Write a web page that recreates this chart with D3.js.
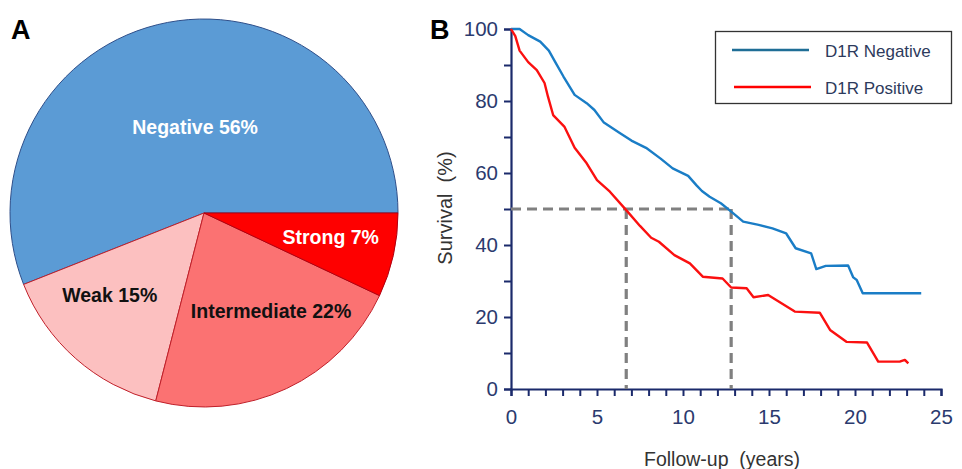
<!DOCTYPE html>
<html>
<head>
<meta charset="utf-8">
<script src="https://cdn.jsdelivr.net/npm/d3@7"></script>
<style>
  html, body { margin: 0; padding: 0; background: #fff; }
  svg { display: block; font-family: "Liberation Sans", Arial, sans-serif; }
</style>
</head>
<body>
<svg id="chart" width="962" height="469"></svg>
<script>
// ---- panel A: D1R staining groups ----
var pieLabels = ["Negative", "Weak", "Intermediate", "Strong"];
var piePercents = [56, 15, 22, 7];

// ---- panel B: Kaplan-Meier curves (years, survival %) ----
var negYears = [0, 0.5, 1.0, 1.7, 2.2, 2.55, 3.05, 3.7, 4.4, 4.85, 5.4, 6.3, 7.0, 7.85, 8.7, 9.4, 10.3, 10.8, 11.1, 11.55, 12.2, 12.7, 13.5, 14.4, 15.2, 16.0, 16.55, 17.45, 17.75, 18.3, 19.6, 19.9, 20.1, 20.45, 23.85];
var negSurv = [100, 100, 98.3, 96.5, 94, 91, 86.8, 81.7, 79.4, 77.5, 74, 71.2, 69, 67, 64, 61.3, 59.2, 56.5, 55, 53.4, 51.6, 49.7, 46.5, 45.6, 44.6, 43.2, 39.1, 37.7, 33.3, 34.2, 34.3, 31, 30.3, 26.6, 26.6];

var posYears = [0, 0.25, 0.5, 1.0, 1.5, 1.95, 2.15, 2.45, 3.1, 3.7, 4.4, 5.0, 5.75, 6.7, 7.5, 8.15, 8.6, 9.5, 10.4, 11.15, 12.3, 12.8, 13.7, 14.1, 14.95, 16.5, 17.95, 18.55, 19.5, 20.7, 21.35, 22.6, 22.9, 23.1];
var posSurv = [100, 98, 94, 90.8, 88.6, 85, 81.2, 76.1, 72.9, 67, 62.7, 58, 54.8, 49.7, 45.3, 42, 40.9, 37.2, 34.9, 31.2, 30.7, 28.2, 28, 25.5, 26.1, 21.5, 21.2, 16.4, 13.1, 12.9, 7.6, 7.6, 8.1, 7.1];

var seriesNames = ["D1R Negative", "D1R Positive"];
var medianYears = [6.7, 12.8];
var medianLevel = 50;

var xTicks = [0, 5, 10, 15, 20, 25];
var yTicks = [0, 20, 40, 60, 80, 100];

var svg = d3.select("#chart");

// ================= Panel A =================
var pieColors = ["#5b9bd5", "#fcc0c0", "#fb7272", "#fe0000"];
var pieStroke = ["#2f4f8a", "#c0202a", "#c0202a", "#b00010"];
var pieTextColor = ["#fff", "#111", "#111", "#fff"];
// where each label sits: fraction along the slice, distance from centre
var labelPlace = [[0.476, 86], [0.36, 125], [0.615, 119], [0.574, 129]];

var cx = 204, cy = 213, radius = 194;

svg.append("text")
    .attr("x", 11)
    .attr("y", 39)
    .attr("font-size", 27)
    .attr("font-weight", "bold")
    .text("A");

var pie = d3.pie()
    .sort(null)
    .startAngle(Math.PI / 2)
    .endAngle(Math.PI / 2 - 2 * Math.PI);

var arc = d3.arc().innerRadius(0).outerRadius(radius);

var slices = pie(piePercents);

var gPie = svg.append("g")
    .attr("transform", "translate(" + cx + "," + cy + ")");

gPie.selectAll("path")
    .data(slices)
    .enter()
    .append("path")
    .attr("d", arc)
    .attr("fill", function(d, i) { return pieColors[i]; })
    .attr("stroke", function(d, i) { return pieStroke[i]; })
    .attr("stroke-width", 1);

gPie.selectAll("text")
    .data(slices)
    .enter()
    .append("text")
    .attr("transform", function(d, i) {
        var a = d.startAngle + (d.endAngle - d.startAngle) * labelPlace[i][0];
        var r = labelPlace[i][1];
        return "translate(" + (Math.sin(a) * r) + "," + (-Math.cos(a) * r) + ")";
    })
    .attr("text-anchor", "middle")
    .attr("dy", "0.36em")
    .attr("font-size", 19.5)
    .attr("font-weight", "bold")
    .attr("fill", function(d, i) { return pieTextColor[i]; })
    .text(function(d, i) { return pieLabels[i] + " " + piePercents[i] + "%"; });

// ================= Panel B =================
var navy = "#1b2a6b";
var tickText = "#2b3a6e";

svg.append("text")
    .attr("x", 430)
    .attr("y", 39)
    .attr("font-size", 27)
    .attr("font-weight", "bold")
    .text("B");

var x = d3.scaleLinear().domain([0, 25]).range([511, 941]);
var y = d3.scaleLinear().domain([0, 100]).range([389, 29]);

// minor ticks (every year / every 10 %)
var xAxis = svg.append("g")
    .attr("transform", "translate(0," + y(0) + ")")
    .call(d3.axisBottom(x).tickValues(d3.range(0, 26, 1)).tickSize(7).tickFormat(""));
xAxis.select(".domain").attr("stroke", navy).attr("stroke-width", 2.2);
xAxis.selectAll(".tick line").attr("stroke", navy).attr("stroke-width", 2);

var xLab = svg.append("g")
    .attr("transform", "translate(0," + y(0) + ")")
    .call(d3.axisBottom(x).tickValues(xTicks).tickSize(0).tickPadding(20));
xLab.select(".domain").remove();
xLab.selectAll("text")
    .attr("font-size", 20.5)
    .attr("fill", tickText)
    .attr("font-family", "Liberation Sans, Arial, sans-serif");

var yAxis = svg.append("g")
    .attr("transform", "translate(" + x(0) + ",0)")
    .call(d3.axisLeft(y).tickValues(d3.range(0, 101, 10)).tickSize(7).tickFormat(""));
yAxis.select(".domain").attr("stroke", navy).attr("stroke-width", 2.2);
yAxis.selectAll(".tick line").attr("stroke", navy).attr("stroke-width", 2);

var yLab = svg.append("g")
    .attr("transform", "translate(" + x(0) + ",0)")
    .call(d3.axisLeft(y).tickValues(yTicks).tickSize(0).tickPadding(13));
yLab.select(".domain").remove();
yLab.selectAll("text")
    .attr("font-size", 20.5)
    .attr("fill", tickText)
    .attr("font-family", "Liberation Sans, Arial, sans-serif");

// median survival guides
var dashColor = "#808080";
svg.append("line")
    .attr("x1", x(0)).attr("x2", x(medianYears[1]))
    .attr("y1", y(medianLevel)).attr("y2", y(medianLevel))
    .attr("stroke", dashColor).attr("stroke-width", 3.2)
    .attr("stroke-dasharray", "10,6");

svg.selectAll(".medline")
    .data(medianYears)
    .enter()
    .append("line")
    .attr("class", "medline")
    .attr("x1", function(d) { return x(d); })
    .attr("x2", function(d) { return x(d); })
    .attr("y1", y(medianLevel))
    .attr("y2", y(0))
    .attr("stroke", dashColor).attr("stroke-width", 3.2)
    .attr("stroke-dasharray", "10,6");

// survival curves
var line = d3.line()
    .x(function(d) { return x(d[0]); })
    .y(function(d) { return y(d[1]); });

var curveColors = ["#1a7dc6", "#fb1010"];
var curves = [d3.zip(negYears, negSurv), d3.zip(posYears, posSurv)];

svg.selectAll(".km")
    .data(curves)
    .enter()
    .append("path")
    .attr("class", "km")
    .attr("d", line)
    .attr("fill", "none")
    .attr("stroke", function(d, i) { return curveColors[i]; })
    .attr("stroke-width", 2.4)
    .attr("stroke-linejoin", "round");

// axis titles
svg.append("text")
    .attr("transform", "translate(452,208) rotate(-90)")
    .attr("text-anchor", "middle")
    .attr("font-size", 20)
    .attr("fill", "#333")
    .text("Survival\u00a0 (%)");

svg.append("text")
    .attr("x", 722)
    .attr("y", 466)
    .attr("text-anchor", "middle")
    .attr("font-size", 19.5)
    .attr("fill", "#333")
    .text("Follow-up\u00a0 (years)");

// legend
var legend = svg.append("g");
legend.append("rect")
    .attr("x", 715.5).attr("y", 31.5)
    .attr("width", 236).attr("height", 72)
    .attr("fill", "#fff")
    .attr("stroke", "#333")
    .attr("stroke-width", 1.3);

var legendLineColors = ["#1f6e96", "#ff0000"];
var item = legend.selectAll(".item")
    .data(seriesNames)
    .enter()
    .append("g")
    .attr("class", "item")
    .attr("transform", function(d, i) { return "translate(0," + (50 + i * 37) + ")"; });

item.append("line")
    .attr("x1", function(d, i) { return 732 + i * 2; })
    .attr("x2", function(d, i) { return 809 + i * 2; })
    .attr("stroke", function(d, i) { return legendLineColors[i]; })
    .attr("stroke-width", 2.4);

item.append("text")
    .attr("x", 825)
    .attr("y", 7)
    .attr("font-size", 17)
    .attr("fill", "#2d3a5c")
    .text(function(d) { return d; });
</script>
</body>
</html>
